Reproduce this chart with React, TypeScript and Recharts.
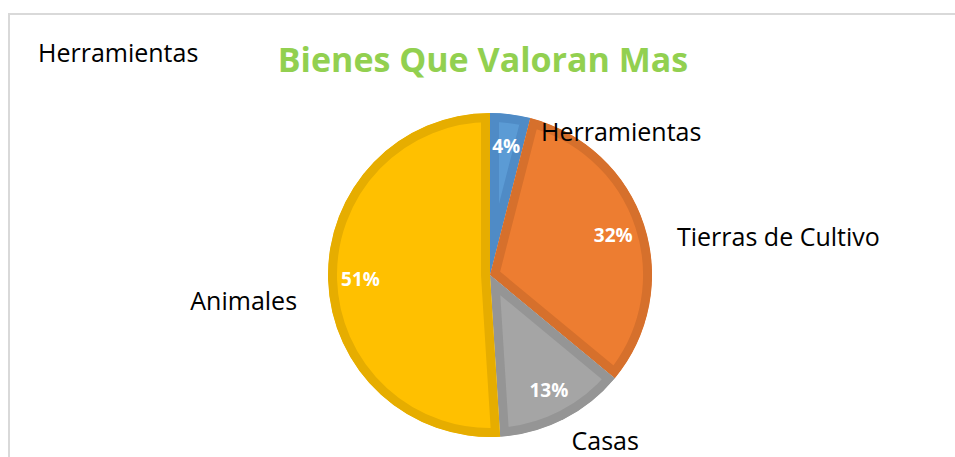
import React from "react";
import { PieChart, Pie, Sector } from "recharts";

const categories = ["Herramientas", "Tierras de Cultivo", "Casas", "Animales"];
const values = [4, 32, 13, 51];
const fills = ["#5B9BD5", "#ED7D31", "#A5A5A5", "#FFC000"];
const strokes = ["#4F8BC6", "#D6702C", "#959595", "#E6AD00"];
const labelNudges: [number, number][] = [
  [28, 39],
  [12, 18],
  [-2, 1],
  [-9, 19],
];

const data = categories.map((name, i) => ({ name, value: values[i], fill: fills[i] }));

const FONT = "'Open Sans', 'Liberation Sans', sans-serif";
const RAD = Math.PI / 180;

const SliceShape = (props: any) => {
  const { cx, cy, innerRadius, outerRadius, startAngle, endAngle, payload } = props;
  const name = payload?.name ?? props.name;
  const i = Math.max(0, categories.indexOf(name));
  const id = `clip-slice-${i}`;
  return (
    <g>
      <defs>
        <clipPath id={id}>
          <Sector cx={cx} cy={cy} innerRadius={innerRadius} outerRadius={outerRadius} startAngle={startAngle} endAngle={endAngle} />
        </clipPath>
      </defs>
      <Sector
        cx={cx}
        cy={cy}
        innerRadius={innerRadius}
        outerRadius={outerRadius}
        startAngle={startAngle}
        endAngle={endAngle}
        fill={fills[i]}
        stroke={strokes[i]}
        strokeWidth={18}
        strokeLinejoin="miter"
        clipPath={`url(#${id})`}
      />
    </g>
  );
};

const renderLabel = (props: any) => {
  const { cx, cy, midAngle, outerRadius, percent, index, name } = props;
  const i = index ?? categories.indexOf(name);
  const cos = Math.cos(-midAngle * RAD);
  const sin = Math.sin(-midAngle * RAD);
  const ix = cx + outerRadius * 0.8 * cos;
  const iy = cy + outerRadius * 0.8 * sin;
  const or = outerRadius + 22;
  const [nx, ny] = labelNudges[i] || [0, 0];
  const ox = cx + or * cos + nx;
  const oy = cy + or * sin + ny;
  const right = ox >= cx;
  return (
    <g>
      <text x={ix} y={iy} fill="#FFFFFF" fontSize={19} fontWeight="bold" fontFamily={FONT} textAnchor="middle" dominantBaseline="central">
        {`${Math.round(percent * 100)}%`}
      </text>
      <text x={ox} y={oy} fill="#000000" fontSize={25} fontFamily={FONT} textAnchor={right ? "start" : "end"} dominantBaseline="central">
        {categories[i]}
      </text>
    </g>
  );
};

export default function App() {
  return (
    <div style={{ position: "absolute", left: 0, top: 0, width: 955, height: 457, background: "#FFFFFF", overflow: "hidden" }}>
      <div style={{ position: "absolute", left: 8, top: 13, width: 1000, height: 500, border: "2px solid #D9D9D9", boxSizing: "border-box" }} />
      <div style={{ position: "absolute", left: 38, top: 34, fontFamily: FONT, fontSize: 25, color: "#000", lineHeight: "36px", whiteSpace: "nowrap" }}>
        Herramientas
      </div>
      <div style={{ position: "absolute", left: 0, width: 966, top: 36, textAlign: "center", fontFamily: FONT, fontSize: 34, fontWeight: "bold", color: "#92D050", lineHeight: "46px", whiteSpace: "nowrap" }}>
        Bienes Que Valoran Mas
      </div>
      <div style={{ position: "absolute", left: 0, top: 0 }}>
        <PieChart width={955} height={457}>
          <Pie
            data={data}
            dataKey="value"
            nameKey="name"
            cx={485}
            cy={270}
            outerRadius={162}
            startAngle={90}
            endAngle={-270}
            stroke="none"
            isAnimationActive={false}
            shape={SliceShape}
            label={renderLabel}
            labelLine={false}
          />
        </PieChart>
      </div>
    </div>
  );
}
